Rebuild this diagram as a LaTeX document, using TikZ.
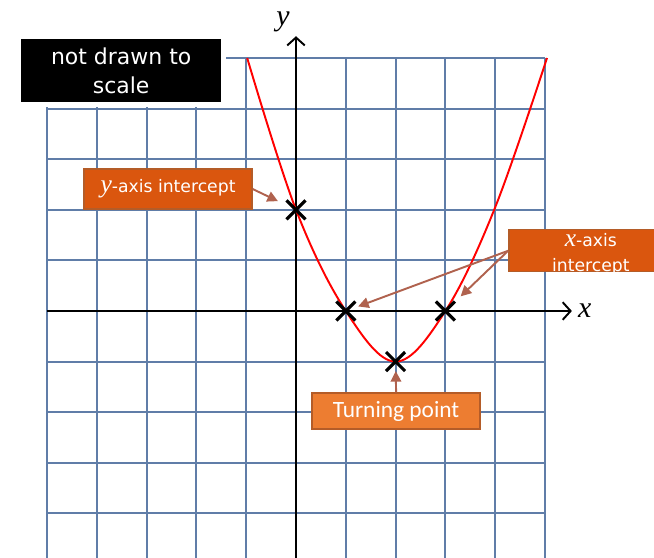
\documentclass[tikz,border=0pt]{standalone}
\usepackage{fontspec}
\usepackage{xcolor}
\usetikzlibrary{arrows.meta, positioning, shapes.misc}
\newfontfamily\boxfont{DejaVu Sans}
\newfontfamily\calfont{Carlito}
\newfontfamily\axisfont{Liberation Serif}
\definecolor{cGrid}{RGB}{96,125,168}
\definecolor{cBoxDark}{RGB}{218,86,14}
\definecolor{cBoxLight}{RGB}{237,125,49}
\definecolor{cEdge}{RGB}{180,92,40}
\definecolor{cPointer}{RGB}{176,98,78}
\tikzset{
	gridline/.style={cGrid, line width=1.1pt},
	axisline/.style={black, line width=1.1pt, -{Straight Barb[length=4.5pt, width=10pt]}},
	curveline/.style={red, line width=1.1pt},
	crossmark/.style={cross out, draw=black, line width=1.8pt, minimum size=0.38cm, inner sep=0pt, outer sep=0pt},
	labelbox/.style={rectangle, draw=cEdge, line width=0.8pt, fill=cBoxDark, text=white, inner sep=0pt, align=center},
	pointer/.style={cPointer, line width=1.1pt, -{Triangle[length=6pt, width=6pt]}},
	axislabel/.style={font=\axisfont\itshape\fontsize{17}{17}\selectfont},
}

\begin{document}
\begin{tikzpicture}[x=0.996cm, y=1.012cm]
	\useasboundingbox (-5.92cm,-4.92cm) rectangle (7.16cm,6.22cm);
	% grid
	\foreach \i in {-5,...,5}
		\draw[gridline] (\i,-5) -- (\i,5);
	\foreach \j in {-4,...,5}
		\draw[gridline] (-5,\j) -- (5,\j);
	% axes
	\draw[axisline] (-5,0) -- (5.54,0);
	\draw[axisline] (0,-5) -- (0,5.43);
	\node[axislabel] (xlab) at (5.8,0) {x};
	\node[axislabel] (ylab) at (-0.26,5.72) {y};
	% curve
	\draw[curveline] plot[smooth, tension=0.6] coordinates {(-0.98,5) (0,2) (1,0) (2,-1) (3,0) (4,2.05) (5.04,5)};
	\node[crossmark] (yint) at (0,2) {};
	\node[crossmark] (xintl) at (1,0) {};
	\node[crossmark] (xintr) at (3,0) {};
	\node[crossmark] (turn) at (2,-1) {};
	% note
	\node[fill=black, draw=white, line width=0.1cm, minimum width=4.1cm, minimum height=1.36cm, text=white, align=center, font=\boxfont\fontsize{12.5}{16.5}\selectfont] (note) at (-3.51,4.75) {not drawn to\\scale};
	% labels
	\node[labelbox, minimum width=3.36cm, minimum height=0.8cm] (ybox) at (-2.57,2.41) {{\axisfont\itshape\fontsize{14.5}{14.5}\selectfont y}{\boxfont\fontsize{9.8}{12}\selectfont -axis intercept}};
	\node[labelbox, minimum width=3.28cm, minimum height=0.84cm] (xbox) at (5.92,1.19) {};
	\begin{scope}
		\clip (xbox.south west) rectangle (xbox.north east);
		\node[anchor=base, text=white] (xtop) at (5.92,1.265) {{\axisfont\itshape\fontsize{14.5}{14.5}\selectfont x}{\boxfont\fontsize{9.8}{12}\selectfont -axis}};
		\node[anchor=base, text=white, font=\boxfont\fontsize{9.8}{12}\selectfont] (xbottom) at (5.92,0.78) {intercept};
	\end{scope}
	\node[labelbox, fill=cBoxLight, minimum width=3.36cm, minimum height=0.72cm, font=\calfont\fontsize{13.3}{16}\selectfont] (tbox) at (2.01,-1.98) {Turning point};
	\draw[pointer, shorten >=0.19cm] (ybox.east) -- (yint);
	\draw[pointer, shorten >=0.06cm] (xbox.west) -- (xintl);
	\draw[pointer, shorten >=0.16cm] (xbox.west) -- (xintr);
	\draw[pointer] (tbox.north) -- (turn);
\end{tikzpicture}
\end{document}
